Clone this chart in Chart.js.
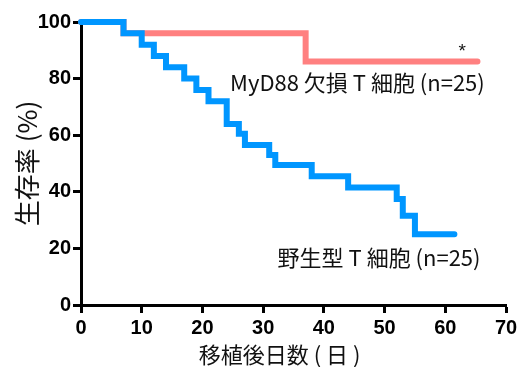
<!DOCTYPE html>
<html>
<head>
<meta charset="utf-8">
<script src="https://cdn.jsdelivr.net/npm/chart.js@4/dist/chart.umd.min.js"></script>
<style>
  html, body { margin: 0; padding: 0; background: #fff; }
  #wrap { width: 525px; height: 367px; }
</style>
</head>
<body>
<div id="wrap"><canvas id="myCanvas" width="525" height="367"></canvas></div>
<script>
// wild type T cells (blue)
var wtDays = [0, 7, 10, 12, 14, 17, 19, 21, 24, 26, 27, 31, 32, 38, 44, 52, 53, 55, 61.5];
var wtSurv = [100, 96, 92, 88, 84, 80, 76, 72, 64, 60.5, 56.5, 53, 49.5, 45.5, 41.5, 37.5, 31.5, 25, 25];
// MyD88-deficient T cells (red)
var koDays = [0, 7, 37, 65.3];
var koSurv = [100, 96, 86, 86];

var xTicks = [0, 10, 20, 30, 40, 50, 60, 70];
var yTicks = [0, 20, 40, 60, 80, 100];

var wtLabel = '野生型 T 細胞 (n=25)';
var koLabel = 'MyD88 欠損 T 細胞 (n=25)';
var xTitle = '移植後日数 ( 日 )';
var yTitle = '生存率 (%)';

function toPoints(xs, ys) {
  return xs.map(function(x, i) { return { x: x, y: ys[i] }; });
}

var cjk = '"Noto Sans CJK JP", "Noto Sans", sans-serif';

// text labels placed inside the plot, plus the x title (sits a bit left of centre)
var notes = {
  id: 'notes',
  afterDatasetsDraw: function(chart) {
    var c = chart.ctx;
    var xs = chart.scales.x, ys = chart.scales.y;
    c.save();
    c.fillStyle = '#111';
    c.textBaseline = 'middle';
    c.textAlign = 'right';
    c.font = '22px ' + cjk;
    c.fillText(koLabel, xs.getPixelForValue(66.5), ys.getPixelForValue(78.7));
    c.fillText(wtLabel, xs.getPixelForValue(65.8), ys.getPixelForValue(16.6));
    c.textAlign = 'center';
    c.font = '19px "Liberation Sans", Arial, sans-serif';
    c.fillText('*', xs.getPixelForValue(62.8), ys.getPixelForValue(89.5));
    c.font = '22px ' + cjk;
    c.fillText(xTitle, xs.getPixelForValue(32.7), 355);
    c.restore();
  }
};

var ctx = document.getElementById('myCanvas');

var data = {
  datasets: [
    {
      label: wtLabel,
      data: toPoints(wtDays, wtSurv),
      borderColor: '#0096FF',
      backgroundColor: '#0096FF',
      borderWidth: 6,
      stepped: true,
      fill: false,
      pointRadius: 0,
      borderCapStyle: 'round',
      clip: false
    }, {
      label: koLabel,
      data: toPoints(koDays, koSurv),
      borderColor: '#FF8080',
      backgroundColor: '#FF8080',
      borderWidth: 6,
      stepped: true,
      fill: false,
      pointRadius: 0,
      borderCapStyle: 'round',
      clip: false
    }
  ]
};

var axisFont = { family: '"Liberation Sans", Arial, sans-serif', size: 20, weight: 'bold' };

var options = {
  responsive: false,
  animation: false,
  layout: { padding: { left: 0, top: 22, right: 19, bottom: 0 } },
  plugins: {
    legend: { display: false },
    tooltip: { enabled: false }
  },
  scales: {
    x: {
      type: 'linear',
      min: 0,
      max: 70,
      afterBuildTicks: function(scale) {
        scale.ticks = xTicks.map(function(v) { return { value: v }; });
      },
      afterFit: function(scale) { scale.height = 62; },
      grid: { drawOnChartArea: false, color: '#000', tickLength: 8, tickWidth: 3 },
      border: { color: '#000', width: 3 },
      ticks: { color: '#000', font: axisFont, padding: 3, maxRotation: 0 }
    },
    y: {
      min: 0,
      max: 100,
      afterBuildTicks: function(scale) {
        scale.ticks = yTicks.map(function(v) { return { value: v }; });
      },
      afterFit: function(scale) { scale.width = 81; },
      grid: { drawOnChartArea: false, color: '#000', tickLength: 8, tickWidth: 3 },
      border: { color: '#000', width: 3 },
      ticks: { color: '#000', font: axisFont, padding: 2 },
      title: { display: true, text: yTitle, color: '#111', font: { family: cjk, size: 26 }, padding: { top: 12, bottom: 0 } }
    }
  }
};

var chart = new Chart(ctx, {
  type: 'line',
  data: data,
  options: options,
  plugins: [notes]
});
</script>
</body>
</html>
